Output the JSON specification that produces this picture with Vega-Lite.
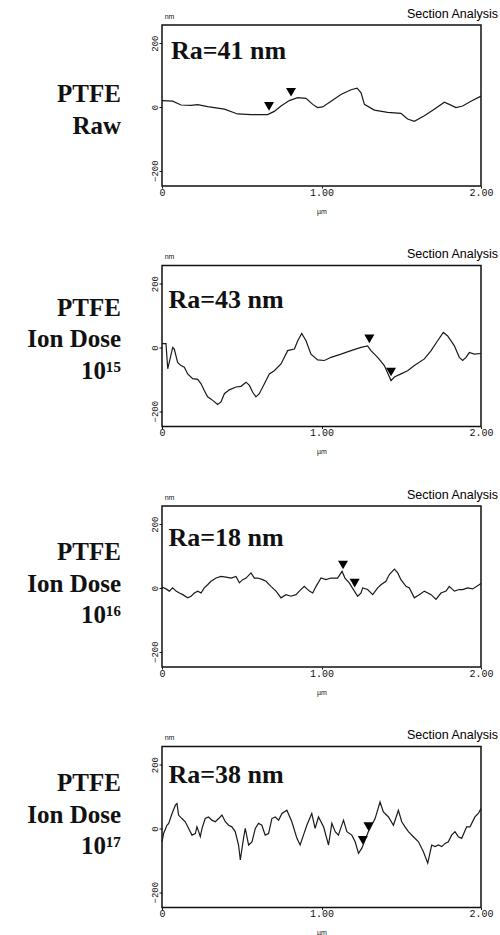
{
  "$schema": "https://vega.github.io/schema/vega-lite/v6.json",
  "background": "white",
  "padding": {"left": 26, "top": 6, "right": 0, "bottom": 0},
  "bounds": "flush",
  "spacing": 79.5,
  "datasets": {
    "profile": [
      {"p":1,"x":0,"z":20},{"p":1,"x":0.067,"z":18},{"p":1,"x":0.119,"z":6},{"p":1,"x":0.182,"z":5},{"p":1,"x":0.224,"z":7},{"p":1,"x":0.286,"z":1},{"p":1,"x":0.391,"z":-7},{"p":1,"x":0.474,"z":-22},{"p":1,"x":0.558,"z":-24},{"p":1,"x":0.662,"z":-24},{"p":1,"x":0.704,"z":-14},{"p":1,"x":0.746,"z":3},{"p":1,"x":0.798,"z":20},{"p":1,"x":0.851,"z":29},{"p":1,"x":0.903,"z":27},{"p":1,"x":0.945,"z":8},{"p":1,"x":0.976,"z":-2},{"p":1,"x":1.007,"z":0},{"p":1,"x":1.06,"z":18},{"p":1,"x":1.122,"z":39},{"p":1,"x":1.185,"z":54},{"p":1,"x":1.223,"z":59},{"p":1,"x":1.248,"z":44},{"p":1,"x":1.269,"z":8},{"p":1,"x":1.331,"z":-10},{"p":1,"x":1.415,"z":-17},{"p":1,"x":1.498,"z":-20},{"p":1,"x":1.54,"z":-38},{"p":1,"x":1.582,"z":-45},{"p":1,"x":1.645,"z":-28},{"p":1,"x":1.707,"z":-7},{"p":1,"x":1.77,"z":15},{"p":1,"x":1.801,"z":8},{"p":1,"x":1.843,"z":-2},{"p":1,"x":1.885,"z":3},{"p":1,"x":1.937,"z":18},{"p":1,"x":2.0,"z":34},
      {"p":2,"x":0,"z":12},{"p":2,"x":0.025,"z":12},{"p":2,"x":0.036,"z":-67},{"p":2,"x":0.067,"z":0},{"p":2,"x":0.077,"z":-5},{"p":2,"x":0.098,"z":-47},{"p":2,"x":0.119,"z":-57},{"p":2,"x":0.14,"z":-62},{"p":2,"x":0.161,"z":-83},{"p":2,"x":0.192,"z":-98},{"p":2,"x":0.224,"z":-100},{"p":2,"x":0.245,"z":-114},{"p":2,"x":0.265,"z":-135},{"p":2,"x":0.286,"z":-155},{"p":2,"x":0.318,"z":-166},{"p":2,"x":0.349,"z":-179},{"p":2,"x":0.37,"z":-171},{"p":2,"x":0.391,"z":-145},{"p":2,"x":0.422,"z":-133},{"p":2,"x":0.464,"z":-124},{"p":2,"x":0.495,"z":-122},{"p":2,"x":0.527,"z":-109},{"p":2,"x":0.548,"z":-119},{"p":2,"x":0.568,"z":-140},{"p":2,"x":0.589,"z":-155},{"p":2,"x":0.61,"z":-145},{"p":2,"x":0.642,"z":-114},{"p":2,"x":0.673,"z":-83},{"p":2,"x":0.704,"z":-73},{"p":2,"x":0.746,"z":-52},{"p":2,"x":0.788,"z":-10},{"p":2,"x":0.83,"z":-5},{"p":2,"x":0.851,"z":21},{"p":2,"x":0.876,"z":44},{"p":2,"x":0.903,"z":21},{"p":2,"x":0.934,"z":-21},{"p":2,"x":0.976,"z":-39},{"p":2,"x":1.018,"z":-41},{"p":2,"x":1.06,"z":-31},{"p":2,"x":1.122,"z":-21},{"p":2,"x":1.185,"z":-10},{"p":2,"x":1.248,"z":0},{"p":2,"x":1.289,"z":5},{"p":2,"x":1.31,"z":-10},{"p":2,"x":1.352,"z":-31},{"p":2,"x":1.394,"z":-57},{"p":2,"x":1.436,"z":-104},{"p":2,"x":1.457,"z":-93},{"p":2,"x":1.498,"z":-83},{"p":2,"x":1.54,"z":-73},{"p":2,"x":1.582,"z":-57},{"p":2,"x":1.645,"z":-36},{"p":2,"x":1.687,"z":-10},{"p":2,"x":1.728,"z":21},{"p":2,"x":1.764,"z":47},{"p":2,"x":1.791,"z":36},{"p":2,"x":1.833,"z":5},{"p":2,"x":1.864,"z":-31},{"p":2,"x":1.885,"z":-41},{"p":2,"x":1.906,"z":-31},{"p":2,"x":1.927,"z":-16},{"p":2,"x":1.958,"z":-21},{"p":2,"x":2.0,"z":-19},
      {"p":3,"x":0,"z":3},{"p":3,"x":0.025,"z":-3},{"p":3,"x":0.046,"z":-10},{"p":3,"x":0.067,"z":0},{"p":3,"x":0.088,"z":-10},{"p":3,"x":0.109,"z":-16},{"p":3,"x":0.13,"z":-21},{"p":3,"x":0.161,"z":-31},{"p":3,"x":0.182,"z":-26},{"p":3,"x":0.203,"z":-16},{"p":3,"x":0.224,"z":-10},{"p":3,"x":0.245,"z":-16},{"p":3,"x":0.265,"z":0},{"p":3,"x":0.286,"z":10},{"p":3,"x":0.307,"z":21},{"p":3,"x":0.339,"z":31},{"p":3,"x":0.37,"z":36},{"p":3,"x":0.401,"z":34},{"p":3,"x":0.433,"z":31},{"p":3,"x":0.464,"z":36},{"p":3,"x":0.485,"z":16},{"p":3,"x":0.506,"z":26},{"p":3,"x":0.527,"z":31},{"p":3,"x":0.558,"z":47},{"p":3,"x":0.579,"z":31},{"p":3,"x":0.6,"z":31},{"p":3,"x":0.631,"z":26},{"p":3,"x":0.652,"z":21},{"p":3,"x":0.683,"z":5},{"p":3,"x":0.715,"z":-10},{"p":3,"x":0.746,"z":-31},{"p":3,"x":0.777,"z":-21},{"p":3,"x":0.809,"z":-26},{"p":3,"x":0.84,"z":-21},{"p":3,"x":0.861,"z":-10},{"p":3,"x":0.892,"z":5},{"p":3,"x":0.924,"z":-10},{"p":3,"x":0.945,"z":-16},{"p":3,"x":0.966,"z":5},{"p":3,"x":0.997,"z":31},{"p":3,"x":1.028,"z":26},{"p":3,"x":1.06,"z":31},{"p":3,"x":1.101,"z":31},{"p":3,"x":1.129,"z":52},{"p":3,"x":1.147,"z":31},{"p":3,"x":1.174,"z":16},{"p":3,"x":1.206,"z":-10},{"p":3,"x":1.227,"z":-26},{"p":3,"x":1.248,"z":-16},{"p":3,"x":1.258,"z":0},{"p":3,"x":1.289,"z":-5},{"p":3,"x":1.321,"z":-21},{"p":3,"x":1.352,"z":0},{"p":3,"x":1.373,"z":10},{"p":3,"x":1.404,"z":21},{"p":3,"x":1.425,"z":42},{"p":3,"x":1.457,"z":59},{"p":3,"x":1.478,"z":47},{"p":3,"x":1.498,"z":26},{"p":3,"x":1.53,"z":5},{"p":3,"x":1.551,"z":0},{"p":3,"x":1.582,"z":-31},{"p":3,"x":1.613,"z":-21},{"p":3,"x":1.645,"z":-10},{"p":3,"x":1.687,"z":-21},{"p":3,"x":1.718,"z":-36},{"p":3,"x":1.749,"z":-16},{"p":3,"x":1.781,"z":-10},{"p":3,"x":1.801,"z":5},{"p":3,"x":1.833,"z":-10},{"p":3,"x":1.864,"z":-5},{"p":3,"x":1.885,"z":-5},{"p":3,"x":1.916,"z":0},{"p":3,"x":1.948,"z":-3},{"p":3,"x":2.0,"z":14},
      {"p":4,"x":0,"z":-42},{"p":4,"x":0.01,"z":-16},{"p":4,"x":0.031,"z":10},{"p":4,"x":0.042,"z":16},{"p":4,"x":0.063,"z":47},{"p":4,"x":0.084,"z":73},{"p":4,"x":0.094,"z":78},{"p":4,"x":0.104,"z":42},{"p":4,"x":0.125,"z":31},{"p":4,"x":0.146,"z":21},{"p":4,"x":0.167,"z":0},{"p":4,"x":0.188,"z":-21},{"p":4,"x":0.209,"z":-16},{"p":4,"x":0.219,"z":5},{"p":4,"x":0.23,"z":-10},{"p":4,"x":0.24,"z":-26},{"p":4,"x":0.251,"z":0},{"p":4,"x":0.271,"z":31},{"p":4,"x":0.292,"z":36},{"p":4,"x":0.313,"z":26},{"p":4,"x":0.334,"z":21},{"p":4,"x":0.355,"z":31},{"p":4,"x":0.376,"z":42},{"p":4,"x":0.397,"z":21},{"p":4,"x":0.418,"z":10},{"p":4,"x":0.438,"z":5},{"p":4,"x":0.459,"z":-10},{"p":4,"x":0.48,"z":-52},{"p":4,"x":0.491,"z":-99},{"p":4,"x":0.511,"z":-31},{"p":4,"x":0.522,"z":0},{"p":4,"x":0.543,"z":-52},{"p":4,"x":0.564,"z":-42},{"p":4,"x":0.585,"z":0},{"p":4,"x":0.605,"z":16},{"p":4,"x":0.626,"z":10},{"p":4,"x":0.647,"z":-21},{"p":4,"x":0.668,"z":-16},{"p":4,"x":0.689,"z":31},{"p":4,"x":0.71,"z":36},{"p":4,"x":0.731,"z":26},{"p":4,"x":0.752,"z":47},{"p":4,"x":0.783,"z":57},{"p":4,"x":0.814,"z":21},{"p":4,"x":0.846,"z":-31},{"p":4,"x":0.866,"z":-52},{"p":4,"x":0.887,"z":-21},{"p":4,"x":0.908,"z":10},{"p":4,"x":0.939,"z":47},{"p":4,"x":0.96,"z":0},{"p":4,"x":0.981,"z":36},{"p":4,"x":1.013,"z":5},{"p":4,"x":1.044,"z":-52},{"p":4,"x":1.065,"z":16},{"p":4,"x":1.086,"z":-10},{"p":4,"x":1.106,"z":-21},{"p":4,"x":1.138,"z":26},{"p":4,"x":1.159,"z":-10},{"p":4,"x":1.19,"z":-21},{"p":4,"x":1.211,"z":-42},{"p":4,"x":1.232,"z":-78},{"p":4,"x":1.253,"z":-62},{"p":4,"x":1.273,"z":-36},{"p":4,"x":1.294,"z":-10},{"p":4,"x":1.336,"z":31},{"p":4,"x":1.367,"z":83},{"p":4,"x":1.388,"z":52},{"p":4,"x":1.42,"z":36},{"p":4,"x":1.451,"z":10},{"p":4,"x":1.482,"z":57},{"p":4,"x":1.503,"z":21},{"p":4,"x":1.524,"z":5},{"p":4,"x":1.545,"z":-10},{"p":4,"x":1.576,"z":-26},{"p":4,"x":1.608,"z":-42},{"p":4,"x":1.639,"z":-73},{"p":4,"x":1.666,"z":-109},{"p":4,"x":1.691,"z":-52},{"p":4,"x":1.712,"z":-57},{"p":4,"x":1.733,"z":-52},{"p":4,"x":1.754,"z":-57},{"p":4,"x":1.775,"z":-47},{"p":4,"x":1.795,"z":-42},{"p":4,"x":1.816,"z":-21},{"p":4,"x":1.837,"z":-10},{"p":4,"x":1.858,"z":-26},{"p":4,"x":1.879,"z":-31},{"p":4,"x":1.91,"z":5},{"p":4,"x":1.931,"z":5},{"p":4,"x":1.962,"z":36},{"p":4,"x":1.983,"z":47},{"p":4,"x":2.0,"z":62}
    ],
    "markers": [
      {"p":1,"x":0.671,"z":2},{"p":1,"x":0.809,"z":46},
      {"p":2,"x":1.3,"z":27},{"p":2,"x":1.436,"z":-77},
      {"p":3,"x":1.135,"z":72},{"p":3,"x":1.208,"z":15},
      {"p":4,"x":1.294,"z":6},{"p":4,"x":1.259,"z":-37}
    ],
    "labels": [
      {"p":1,"sample":"PTFE\nRaw","ra":"Ra=41 nm"},
      {"p":2,"sample":"PTFE\nIon Dose\n10¹⁵","ra":"Ra=43 nm"},
      {"p":3,"sample":"PTFE\nIon Dose\n10¹⁶","ra":"Ra=18 nm"},
      {"p":4,"sample":"PTFE\nIon Dose\n10¹⁷","ra":"Ra=38 nm"}
    ]
  },
  "vconcat": [
    {
      "width": 319, "height": 161,
      "title": "Section Analysis",
      "layer": [
        {"data": {"name": "profile"}, "transform": [{"filter": "datum.p == 1"}], "mark": {"type": "line", "color": "#1a1a1a", "strokeWidth": 1.2},
         "encoding": {
          "x": {"field": "x", "type": "quantitative", "scale": {"domain": [0, 2], "nice": false}, "axis": {"values": [0, 1, 2], "labelExpr": "datum.value == 0 ? '0' : format(datum.value, '.2f')", "title": "µm"}},
          "y": {"field": "z", "type": "quantitative", "scale": {"domain": [-248, 257], "nice": false}, "axis": {"values": [-200, 0, 200], "title": "nm"}}}},
        {"data": {"name": "markers"}, "transform": [{"filter": "datum.p == 1"}], "mark": {"type": "point", "shape": "triangle-down", "filled": true, "size": 100, "color": "#000", "opacity": 1},
         "encoding": {"x": {"field": "x", "type": "quantitative"}, "y": {"field": "z", "type": "quantitative"}}},
        {"data": {"name": "labels"}, "transform": [{"filter": "datum.p == 1"}], "mark": {"type": "text", "font": "Liberation Serif", "fontSize": 26, "fontWeight": "bold", "align": "left", "baseline": "alphabetic", "color": "#111"}, "encoding": {"x": {"datum": 0.056, "type": "quantitative"}, "y": {"datum": 150, "type": "quantitative"}, "text": {"field": "ra", "type": "nominal"}}},
        {"data": {"name": "labels"}, "transform": [{"filter": "datum.p == 1"}], "mark": {"type": "text", "font": "Liberation Serif", "fontSize": 25, "fontWeight": "bold", "align": "right", "baseline": "alphabetic", "lineBreak": "\n", "lineHeight": 31.5, "color": "#111"}, "encoding": {"x": {"datum": -0.257, "type": "quantitative"}, "y": {"datum": 15, "type": "quantitative"}, "text": {"field": "sample", "type": "nominal"}}}
      ]
    },
    {
      "width": 319, "height": 161,
      "title": "Section Analysis",
      "layer": [
        {"data": {"name": "profile"}, "transform": [{"filter": "datum.p == 2"}], "mark": {"type": "line", "color": "#1a1a1a", "strokeWidth": 1.2},
         "encoding": {
          "x": {"field": "x", "type": "quantitative", "scale": {"domain": [0, 2], "nice": false}, "axis": {"values": [0, 1, 2], "labelExpr": "datum.value == 0 ? '0' : format(datum.value, '.2f')", "title": "µm"}},
          "y": {"field": "z", "type": "quantitative", "scale": {"domain": [-248, 257], "nice": false}, "axis": {"values": [-200, 0, 200], "title": "nm"}}}},
        {"data": {"name": "markers"}, "transform": [{"filter": "datum.p == 2"}], "mark": {"type": "point", "shape": "triangle-down", "filled": true, "size": 100, "color": "#000", "opacity": 1},
         "encoding": {"x": {"field": "x", "type": "quantitative"}, "y": {"field": "z", "type": "quantitative"}}},
        {"data": {"name": "labels"}, "transform": [{"filter": "datum.p == 2"}], "mark": {"type": "text", "font": "Liberation Serif", "fontSize": 26, "fontWeight": "bold", "align": "left", "baseline": "alphabetic", "color": "#111"}, "encoding": {"x": {"datum": 0.04, "type": "quantitative"}, "y": {"datum": 125, "type": "quantitative"}, "text": {"field": "ra", "type": "nominal"}}},
        {"data": {"name": "labels"}, "transform": [{"filter": "datum.p == 2"}], "mark": {"type": "text", "font": "Liberation Serif", "fontSize": 25, "fontWeight": "bold", "align": "right", "baseline": "alphabetic", "lineBreak": "\n", "lineHeight": 31.5, "color": "#111"}, "encoding": {"x": {"datum": -0.257, "type": "quantitative"}, "y": {"datum": 100, "type": "quantitative"}, "text": {"field": "sample", "type": "nominal"}}}
      ]
    },
    {
      "width": 319, "height": 161,
      "title": "Section Analysis",
      "layer": [
        {"data": {"name": "profile"}, "transform": [{"filter": "datum.p == 3"}], "mark": {"type": "line", "color": "#1a1a1a", "strokeWidth": 1.2},
         "encoding": {
          "x": {"field": "x", "type": "quantitative", "scale": {"domain": [0, 2], "nice": false}, "axis": {"values": [0, 1, 2], "labelExpr": "datum.value == 0 ? '0' : format(datum.value, '.2f')", "title": "µm"}},
          "y": {"field": "z", "type": "quantitative", "scale": {"domain": [-248, 257], "nice": false}, "axis": {"values": [-200, 0, 200], "title": "nm"}}}},
        {"data": {"name": "markers"}, "transform": [{"filter": "datum.p == 3"}], "mark": {"type": "point", "shape": "triangle-down", "filled": true, "size": 100, "color": "#000", "opacity": 1},
         "encoding": {"x": {"field": "x", "type": "quantitative"}, "y": {"field": "z", "type": "quantitative"}}},
        {"data": {"name": "labels"}, "transform": [{"filter": "datum.p == 3"}], "mark": {"type": "text", "font": "Liberation Serif", "fontSize": 26, "fontWeight": "bold", "align": "left", "baseline": "alphabetic", "color": "#111"}, "encoding": {"x": {"datum": 0.04, "type": "quantitative"}, "y": {"datum": 131, "type": "quantitative"}, "text": {"field": "ra", "type": "nominal"}}},
        {"data": {"name": "labels"}, "transform": [{"filter": "datum.p == 3"}], "mark": {"type": "text", "font": "Liberation Serif", "fontSize": 25, "fontWeight": "bold", "align": "right", "baseline": "alphabetic", "lineBreak": "\n", "lineHeight": 31.5, "color": "#111"}, "encoding": {"x": {"datum": -0.257, "type": "quantitative"}, "y": {"datum": 87, "type": "quantitative"}, "text": {"field": "sample", "type": "nominal"}}}
      ]
    },
    {
      "width": 319, "height": 161,
      "title": "Section Analysis",
      "layer": [
        {"data": {"name": "profile"}, "transform": [{"filter": "datum.p == 4"}], "mark": {"type": "line", "color": "#1a1a1a", "strokeWidth": 1.2},
         "encoding": {
          "x": {"field": "x", "type": "quantitative", "scale": {"domain": [0, 2], "nice": false}, "axis": {"values": [0, 1, 2], "labelExpr": "datum.value == 0 ? '0' : format(datum.value, '.2f')", "title": "µm"}},
          "y": {"field": "z", "type": "quantitative", "scale": {"domain": [-248, 257], "nice": false}, "axis": {"values": [-200, 0, 200], "title": "nm"}}}},
        {"data": {"name": "markers"}, "transform": [{"filter": "datum.p == 4"}], "mark": {"type": "point", "shape": "triangle-down", "filled": true, "size": 100, "color": "#000", "opacity": 1},
         "encoding": {"x": {"field": "x", "type": "quantitative"}, "y": {"field": "z", "type": "quantitative"}}},
        {"data": {"name": "labels"}, "transform": [{"filter": "datum.p == 4"}], "mark": {"type": "text", "font": "Liberation Serif", "fontSize": 26, "fontWeight": "bold", "align": "left", "baseline": "alphabetic", "color": "#111"}, "encoding": {"x": {"datum": 0.04, "type": "quantitative"}, "y": {"datum": 141, "type": "quantitative"}, "text": {"field": "ra", "type": "nominal"}}},
        {"data": {"name": "labels"}, "transform": [{"filter": "datum.p == 4"}], "mark": {"type": "text", "font": "Liberation Serif", "fontSize": 25, "fontWeight": "bold", "align": "right", "baseline": "alphabetic", "lineBreak": "\n", "lineHeight": 31.5, "color": "#111"}, "encoding": {"x": {"datum": -0.257, "type": "quantitative"}, "y": {"datum": 116, "type": "quantitative"}, "text": {"field": "sample", "type": "nominal"}}}
      ]
    }
  ],
  "config": {
    "view": {"stroke": "#111", "strokeWidth": 1.5},
    "axis": {"grid": false, "domain": false, "tickColor": "#111", "tickSize": 3, "labelColor": "#111", "labelFont": "Liberation Mono", "titleFont": "Liberation Sans", "titleFontWeight": "normal", "titleFontSize": 7, "titleColor": "#111"},
    "axisX": {"labelFontSize": 10, "labelPadding": -1, "tickSize": 2, "titlePadding": 10, "labelFlush": false},
    "axisY": {"labelFontSize": 9, "labelAngle": 270, "labelPadding": 0, "titleAngle": 0, "titleX": 7, "titleY": -9, "titleAlign": "center", "titleBaseline": "middle"},
    "title": {"anchor": "end", "frame": "group", "font": "Liberation Sans", "fontSize": 12.5, "fontWeight": "normal", "color": "#000", "dx": 17, "dy": 15, "offset": 7, "baseline": "alphabetic"}
  }
}
